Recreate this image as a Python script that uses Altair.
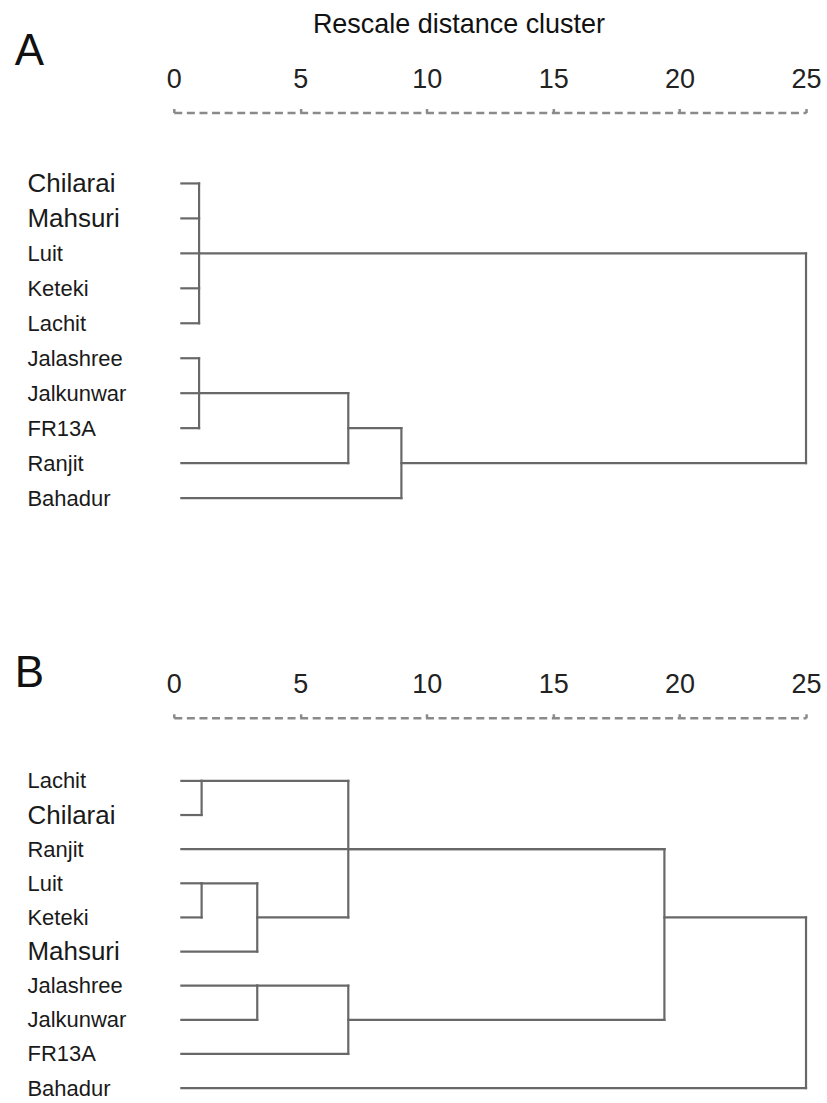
import altair as alt
import pandas as pd

# ---------------- data ----------------
DIST_TICKS = [0, 5, 10, 15, 20, 25]
LEAF_START = 0.3          # rescaled distance where leaf lines begin

A_LEAVES = ["Chilarai", "Mahsuri", "Luit", "Keteki", "Lachit",
            "Jalashree", "Jalkunwar", "FR13A", "Ranjit", "Bahadur"]
A_MERGE_CHILDREN = [
    ["Chilarai", "Mahsuri", "Luit", "Keteki", "Lachit"],
    ["Jalashree", "Jalkunwar", "FR13A"],
    ["m1", "Ranjit"],
    ["m2", "Bahadur"],
    ["m0", "m3"],
]
A_MERGE_HEIGHT = [1.0, 1.0, 6.9, 9.0, 25.0]

B_LEAVES = ["Lachit", "Chilarai", "Ranjit", "Luit", "Keteki", "Mahsuri",
            "Jalashree", "Jalkunwar", "FR13A", "Bahadur"]
B_MERGE_CHILDREN = [
    ["Lachit", "Chilarai"],
    ["Luit", "Keteki"],
    ["m1", "Mahsuri"],
    ["Jalashree", "Jalkunwar"],
    ["m0", "m2"],
    ["m3", "FR13A"],
    ["m4", "Ranjit", "m5"],
    ["m6", "Bahadur"],
]
B_MERGE_HEIGHT = [1.1, 1.1, 3.3, 3.3, 6.9, 6.9, 19.4, 25.0]

LARGE_LABELS = ["Chilarai", "Mahsuri"]


def segments(leaves, children, heights):
    pos = {n: (i, LEAF_START) for i, n in enumerate(leaves)}
    segs = []
    for k, (kids, h) in enumerate(zip(children, heights)):
        ys = [pos[c][0] for c in kids]
        for c in kids:
            y, x0 = pos[c]
            segs.append({"x": x0, "x2": h, "y": y, "y2": y})
        segs.append({"x": h, "x2": h, "y": min(ys), "y2": max(ys)})
        pos[f"m{k}"] = ((min(ys) + max(ys)) // 2, h)
    return pd.DataFrame(segs)


LINE_COL = "#686868"
AXIS_COL = "#8a8a8a"


def panel(leaves, children, heights, letter, letter_y, axis_offset,
          ydomain, row, title=None):
    df = segments(leaves, children, heights)
    label_expr = "[" + ",".join(f"'{n}'" for n in leaves) + "][datum.value]"
    big_rows = [i for i, n in enumerate(leaves) if n in LARGE_LABELS]
    test = "indexof([" + ",".join(str(i) for i in big_rows) + "], datum.value) >= 0"

    xaxis_kw = dict(
        orient="top", values=DIST_TICKS, format="d", offset=axis_offset,
        domainDash=[8, 4.6], domainColor=AXIS_COL, domainWidth=2.5,
        ticks=True, tickSize=4, tickWidth=2.5, tickColor=AXIS_COL,
        grid=False, labelFontSize=27, labelColor="#222222",
        labelPadding=15, labelFlush=False, labelOverlap=False,
    )
    if title:
        xaxis_kw.update(title=title, titleFontSize=27, titleFontWeight="normal",
                        titleColor="#111111", titleX=285, titleY=-88,
                        titleAlign="center", titleBaseline="middle")
    else:
        xaxis_kw.update(title="")

    yaxis = alt.Axis(
        values=list(range(len(leaves))), labelExpr=label_expr,
        labelAlign="left", labelBaseline="middle", labelPadding=147,
        labelFontSize={"condition": {"test": test, "value": 26}, "value": 22},
        labelColor="#1a1a1a", domain=False, ticks=False, grid=False,
        title=letter, titleAngle=0, titleX=-145, titleY=letter_y,
        titleFontSize=44, titleFontWeight="normal", titleColor="#111111",
        titleAlign="center", titleBaseline="middle",
    )

    height = round((ydomain[1] - ydomain[0]) * row)
    return alt.Chart(df).mark_rule(
        color=LINE_COL, strokeWidth=2.2, strokeCap="square"
    ).encode(
        x=alt.X("x:Q", scale=alt.Scale(domain=[0, 25], nice=False, zero=False),
                axis=alt.Axis(**xaxis_kw)),
        x2="x2:Q",
        y=alt.Y("y:Q", scale=alt.Scale(domain=ydomain, reverse=True,
                                       nice=False, zero=False),
                axis=yaxis),
        y2="y2:Q",
    ).properties(width=633, height=height)


panel_a = panel(A_LEAVES, A_MERGE_CHILDREN, A_MERGE_HEIGHT, "A",
                letter_y=-97, axis_offset=36, ydomain=[-1, 10], row=35,
                title="Rescale distance cluster")
panel_b = panel(B_LEAVES, B_MERGE_CHILDREN, B_MERGE_HEIGHT, "B",
                letter_y=-73, axis_offset=29, ydomain=[-1, 9.3], row=34.2)

chart = alt.vconcat(panel_a, panel_b, spacing=214, bounds="flush").properties(
    padding={"left": 14, "top": 10, "right": 5, "bottom": 0},
    background="white",
).configure(font="Liberation Sans").configure_view(stroke=None)

chart.save("out.html", embed_options={"renderer": "svg", "actions": False})
